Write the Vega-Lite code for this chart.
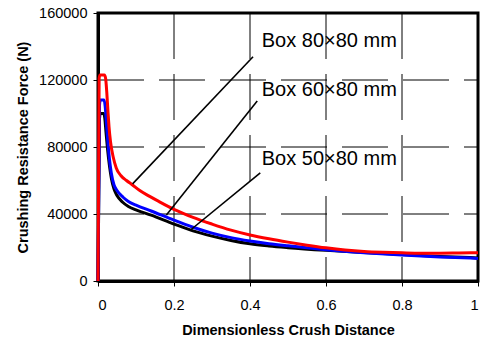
{
  "$schema": "https://vega.github.io/schema/vega-lite/v6.json",
  "width": 380,
  "height": 268,
  "autosize": {"type": "none"},
  "padding": {"left": 98, "top": 13, "right": 5, "bottom": 58},
  "background": "white",
  "view": {"stroke": "black", "strokeWidth": 3},
  "config": {
    "font": "Liberation Sans",
    "axis": {
      "grid": false,
      "labelFont": "Liberation Sans",
      "labelFontSize": 14.5,
      "labelColor": "black",
      "titleFont": "Liberation Sans",
      "titleFontSize": 14.5,
      "titleFontWeight": "bold",
      "titleColor": "black",
      "domainColor": "black",
      "domainWidth": 3,
      "tickColor": "black",
      "tickWidth": 1,
      "tickSize": 5
    }
  },
  "datasets": {
    "vgrid": [{"v": 0.2}, {"v": 0.4}, {"v": 0.6}, {"v": 0.8}],
    "hgrid": [{"v": 40000}, {"v": 80000}, {"v": 120000}],
    "curves": [
      {"box": "50x80", "d": 0, "f": 0},
      {"box": "50x80", "d": 0.004, "f": 97000},
      {"box": "50x80", "d": 0.006, "f": 100000},
      {"box": "50x80", "d": 0.015, "f": 100000},
      {"box": "50x80", "d": 0.018, "f": 97000},
      {"box": "50x80", "d": 0.021, "f": 89000},
      {"box": "50x80", "d": 0.025, "f": 79000},
      {"box": "50x80", "d": 0.03, "f": 69000},
      {"box": "50x80", "d": 0.035, "f": 61500},
      {"box": "50x80", "d": 0.042, "f": 55000},
      {"box": "50x80", "d": 0.05, "f": 51000},
      {"box": "50x80", "d": 0.065, "f": 47000},
      {"box": "50x80", "d": 0.08, "f": 44500},
      {"box": "50x80", "d": 0.1, "f": 42500},
      {"box": "50x80", "d": 0.14, "f": 39300},
      {"box": "50x80", "d": 0.2, "f": 34000},
      {"box": "50x80", "d": 0.25, "f": 29900},
      {"box": "50x80", "d": 0.3, "f": 26800},
      {"box": "50x80", "d": 0.35, "f": 24200},
      {"box": "50x80", "d": 0.4, "f": 22200},
      {"box": "50x80", "d": 0.45, "f": 20900},
      {"box": "50x80", "d": 0.5, "f": 19900},
      {"box": "50x80", "d": 0.6, "f": 18300},
      {"box": "50x80", "d": 0.7, "f": 17000},
      {"box": "50x80", "d": 0.8, "f": 15800},
      {"box": "50x80", "d": 0.9, "f": 14700},
      {"box": "50x80", "d": 1, "f": 13800},
      {"box": "60x80", "d": 0, "f": 0},
      {"box": "60x80", "d": 0.004, "f": 105000},
      {"box": "60x80", "d": 0.006, "f": 108000},
      {"box": "60x80", "d": 0.016, "f": 108000},
      {"box": "60x80", "d": 0.019, "f": 104000},
      {"box": "60x80", "d": 0.022, "f": 95000},
      {"box": "60x80", "d": 0.026, "f": 83000},
      {"box": "60x80", "d": 0.03, "f": 73000},
      {"box": "60x80", "d": 0.035, "f": 64500},
      {"box": "60x80", "d": 0.042, "f": 57500},
      {"box": "60x80", "d": 0.05, "f": 54000},
      {"box": "60x80", "d": 0.066, "f": 50000},
      {"box": "60x80", "d": 0.08, "f": 47500},
      {"box": "60x80", "d": 0.1, "f": 45300},
      {"box": "60x80", "d": 0.14, "f": 41800},
      {"box": "60x80", "d": 0.2, "f": 36300},
      {"box": "60x80", "d": 0.25, "f": 32100},
      {"box": "60x80", "d": 0.3, "f": 28600},
      {"box": "60x80", "d": 0.35, "f": 25900},
      {"box": "60x80", "d": 0.4, "f": 23900},
      {"box": "60x80", "d": 0.45, "f": 22300},
      {"box": "60x80", "d": 0.5, "f": 21000},
      {"box": "60x80", "d": 0.55, "f": 19800},
      {"box": "60x80", "d": 0.6, "f": 18700},
      {"box": "60x80", "d": 0.7, "f": 16900},
      {"box": "60x80", "d": 0.8, "f": 15500},
      {"box": "60x80", "d": 0.9, "f": 14400},
      {"box": "60x80", "d": 1, "f": 13500},
      {"box": "80x80", "d": 0, "f": 0},
      {"box": "80x80", "d": 0.003, "f": 121000},
      {"box": "80x80", "d": 0.005, "f": 123000},
      {"box": "80x80", "d": 0.017, "f": 123000},
      {"box": "80x80", "d": 0.02, "f": 121000},
      {"box": "80x80", "d": 0.023, "f": 113000},
      {"box": "80x80", "d": 0.026, "f": 102000},
      {"box": "80x80", "d": 0.029, "f": 92000},
      {"box": "80x80", "d": 0.033, "f": 83000},
      {"box": "80x80", "d": 0.04, "f": 74000},
      {"box": "80x80", "d": 0.048, "f": 67500},
      {"box": "80x80", "d": 0.06, "f": 63000},
      {"box": "80x80", "d": 0.075, "f": 60000},
      {"box": "80x80", "d": 0.09, "f": 57500},
      {"box": "80x80", "d": 0.11, "f": 54000},
      {"box": "80x80", "d": 0.136, "f": 50500},
      {"box": "80x80", "d": 0.16, "f": 47500},
      {"box": "80x80", "d": 0.2, "f": 42800},
      {"box": "80x80", "d": 0.25, "f": 38000},
      {"box": "80x80", "d": 0.3, "f": 34000},
      {"box": "80x80", "d": 0.35, "f": 30400},
      {"box": "80x80", "d": 0.4, "f": 27500},
      {"box": "80x80", "d": 0.45, "f": 25200},
      {"box": "80x80", "d": 0.5, "f": 23200},
      {"box": "80x80", "d": 0.55, "f": 21400},
      {"box": "80x80", "d": 0.6, "f": 19800},
      {"box": "80x80", "d": 0.65, "f": 18500},
      {"box": "80x80", "d": 0.7, "f": 17600},
      {"box": "80x80", "d": 0.75, "f": 17100},
      {"box": "80x80", "d": 0.8, "f": 16800},
      {"box": "80x80", "d": 0.85, "f": 16600},
      {"box": "80x80", "d": 0.9, "f": 16600},
      {"box": "80x80", "d": 0.95, "f": 16700},
      {"box": "80x80", "d": 1, "f": 16900}
    ],
    "leaders": [
      {"box": "80x80", "x1": 0.408, "y1": 133900, "x2": 0.091, "y2": 58000},
      {"box": "60x80", "x1": 0.419, "y1": 107500, "x2": 0.18, "y2": 39400},
      {"box": "50x80", "x1": 0.427, "y1": 64500, "x2": 0.241, "y2": 30000}
    ],
    "labels": [
      {"label": "Box 80×80 mm", "x": 0.431, "y": 143100},
      {"label": "Box 60×80 mm", "x": 0.431, "y": 114300},
      {"label": "Box 50×80 mm", "x": 0.431, "y": 72800}
    ]
  },
  "layer": [
    {
      "data": {"name": "vgrid"},
      "mark": {"type": "rule", "color": "black", "strokeWidth": 1, "strokeDash": [46, 15]},
      "encoding": {
        "x": {
          "field": "v", "type": "quantitative",
          "scale": {"domain": [0, 1], "nice": false},
          "axis": {
            "title": "Dimensionless Crush Distance",
            "values": [0, 0.2, 0.4, 0.6, 0.8, 1],
            "format": "~g",
            "labelPadding": 12,
            "titleX": 190,
            "titleY": 53,
            "titleBaseline": "alphabetic"
          }
        },
        "y": {
          "datum": 160000, "type": "quantitative",
          "scale": {"domain": [0, 160000], "nice": false},
          "axis": {
            "title": "Crushing Resistance Force (N)",
            "values": [0, 40000, 80000, 120000, 160000],
            "format": "d",
            "labelPadding": 6,
            "titleX": -71,
            "titleY": 134,
            "titleBaseline": "alphabetic",
            "titleAlign": "center"
          }
        },
        "y2": {"datum": 0}
      }
    },
    {
      "data": {"name": "hgrid"},
      "mark": {"type": "rule", "color": "black", "strokeWidth": 1, "strokeDash": [46, 15]},
      "encoding": {
        "x": {"datum": 0, "type": "quantitative"},
        "x2": {"datum": 1},
        "y": {"field": "v", "type": "quantitative"}
      }
    },
    {
      "data": {"name": "curves"},
      "transform": [{"filter": "datum.box === '50x80'"}],
      "mark": {"type": "line", "color": "black", "strokeWidth": 3, "interpolate": "monotone"},
      "encoding": {
        "x": {"field": "d", "type": "quantitative"},
        "y": {"field": "f", "type": "quantitative"}
      }
    },
    {
      "data": {"name": "curves"},
      "transform": [{"filter": "datum.box === '60x80'"}],
      "mark": {"type": "line", "color": "#0000ff", "strokeWidth": 3, "interpolate": "monotone"},
      "encoding": {
        "x": {"field": "d", "type": "quantitative"},
        "y": {"field": "f", "type": "quantitative"}
      }
    },
    {
      "data": {"name": "curves"},
      "transform": [{"filter": "datum.box === '80x80'"}],
      "mark": {"type": "line", "color": "#ff0000", "strokeWidth": 3, "interpolate": "monotone"},
      "encoding": {
        "x": {"field": "d", "type": "quantitative"},
        "y": {"field": "f", "type": "quantitative"}
      }
    },
    {
      "data": {"name": "leaders"},
      "mark": {"type": "rule", "color": "black", "strokeWidth": 1.6},
      "encoding": {
        "x": {"field": "x1", "type": "quantitative"},
        "y": {"field": "y1", "type": "quantitative"},
        "x2": {"field": "x2"},
        "y2": {"field": "y2"}
      }
    },
    {
      "data": {"name": "labels"},
      "mark": {"type": "text", "align": "left", "baseline": "middle", "fontSize": 20, "font": "Liberation Sans", "color": "black"},
      "encoding": {
        "x": {"field": "x", "type": "quantitative"},
        "y": {"field": "y", "type": "quantitative"},
        "text": {"field": "label"}
      }
    }
  ]
}
